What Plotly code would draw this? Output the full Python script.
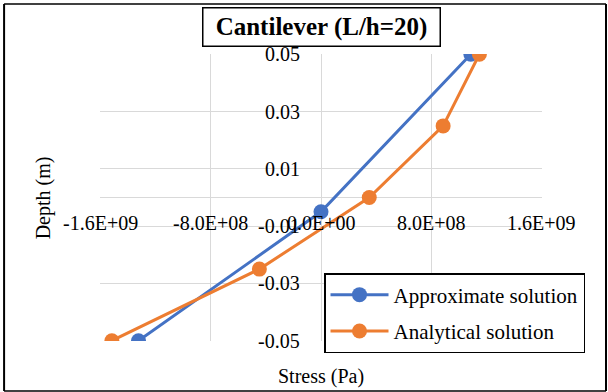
import plotly.graph_objects as go

# Bending stress through the beam depth
approx_stress = [1.087e9, 0.0, -1.324e9]
approx_depth = [0.05, -0.005, -0.05]

analytical_stress = [1.149e9, 8.86e8, 3.5e8, -4.47e8, -1.517e9]
analytical_depth = [0.05, 0.025, 0.0, -0.025, -0.05]

x_ticks = [-1.6e9, -8.0e8, 0.0, 8.0e8, 1.6e9]
x_tick_labels = ["-1.6E+09", "-8.0E+08", "0.0E+00", "8.0E+08", "1.6E+09"]
y_ticks = [-0.05, -0.03, -0.01, 0.01, 0.03, 0.05]
y_tick_labels = ["-0.05", "-0.03", "-0.01", "0.01", "0.03", "0.05"]

FONT = "serif"
BLUE = "#4472C4"
ORANGE = "#ED7D31"
GRID = "#d9d9d9"

fig = go.Figure()
fig.add_trace(go.Scatter(
    x=approx_stress, y=approx_depth, mode="lines+markers",
    name="Approximate solution", legendgroup="a",
    line=dict(color=BLUE, width=3), marker=dict(color=BLUE, size=15),
))
fig.add_trace(go.Scatter(
    x=analytical_stress, y=analytical_depth, mode="lines+markers",
    name="Analytical solution", legendgroup="b",
    line=dict(color=ORANGE, width=3), marker=dict(color=ORANGE, size=15),
))

annotations = []
# tick labels sit along the axes that cross at zero
for v, t in zip(x_ticks, x_tick_labels):
    annotations.append(dict(x=v, y=0, xref="x", yref="y", text=t, showarrow=False,
                            xanchor="center", yanchor="middle", yshift=-25,
                            font=dict(family=FONT, size=20, color="#000000")))
for v, t in zip(y_ticks, y_tick_labels):
    annotations.append(dict(x=0, y=v, xref="x", yref="y", text=t, showarrow=False,
                            xanchor="right", yanchor="middle", xshift=-19,
                            font=dict(family=FONT, size=20, color="#000000")))
# chart title in a framed box
annotations.append(dict(x=0.5, y=1.095, xref="paper", yref="paper",
                        text="<b>Cantilever (L/h=20)</b>", showarrow=False,
                        xanchor="center", yanchor="middle",
                        font=dict(family=FONT, size=25, color="#000000"),
                        bordercolor="black", borderwidth=1.5, borderpad=4,
                        bgcolor="white", width=228, height=29))
# axis titles
annotations.append(dict(x=0.5, y=-0.125, xref="paper", yref="paper",
                        text="Stress (Pa)", showarrow=False,
                        xanchor="center", yanchor="middle",
                        font=dict(family=FONT, size=20, color="#000000")))
annotations.append(dict(x=-0.127, y=0.5, xref="paper", yref="paper",
                        text="Depth (m)", showarrow=False, textangle=-90,
                        xanchor="center", yanchor="middle",
                        font=dict(family=FONT, size=20, color="#000000")))

shapes = [
    # outer frame
    dict(type="line", xref="paper", yref="paper", x0=-0.217, x1=1.1448, y0=1.174, y1=1.174,
         line=dict(color="black", width=1.5)),
    dict(type="line", xref="paper", yref="paper", x0=-0.217, x1=1.1448, y0=-0.174, y1=-0.174,
         line=dict(color="black", width=1.5)),
    dict(type="line", xref="paper", yref="paper", x0=-0.217, x1=-0.217, y0=-0.174, y1=1.174,
         line=dict(color="black", width=2)),
    dict(type="line", xref="paper", yref="paper", x0=1.1448, x1=1.1448, y0=-0.174, y1=1.174,
         line=dict(color="black", width=2)),
]

fig.update_layout(
    template="none",
    width=608, height=392,
    margin=dict(l=100, r=66, t=54, b=51),
    paper_bgcolor="white", plot_bgcolor="white",
    font=dict(family=FONT, size=20, color="#000000"),
    showlegend=True,
    legend=dict(x=0.5068, y=0.2369, xanchor="left", yanchor="top",
                bordercolor="black", borderwidth=1.5, bgcolor="white",
                font=dict(family=FONT, size=21, color="#000000"),
                itemwidth=58, tracegroupgap=6),
    annotations=annotations,
    shapes=shapes,
)
pad_x = 3.2e9 * 0.001
pad_y = 0.1 * 0.001
fig.update_xaxes(range=[-1.6e9 - pad_x, 1.6e9 + pad_x], tickvals=x_ticks, showticklabels=False,
                 showgrid=True, gridcolor=GRID, gridwidth=1,
                 zeroline=True, zerolinecolor=GRID, zerolinewidth=1,
                 showline=False, ticks="")
fig.update_yaxes(range=[-0.05 - pad_y, 0.05 + pad_y], tickvals=y_ticks, showticklabels=False,
                 showgrid=True, gridcolor=GRID, gridwidth=1,
                 zeroline=True, zerolinecolor=GRID, zerolinewidth=1,
                 showline=False, ticks="")

fig.write_html("out.html")
